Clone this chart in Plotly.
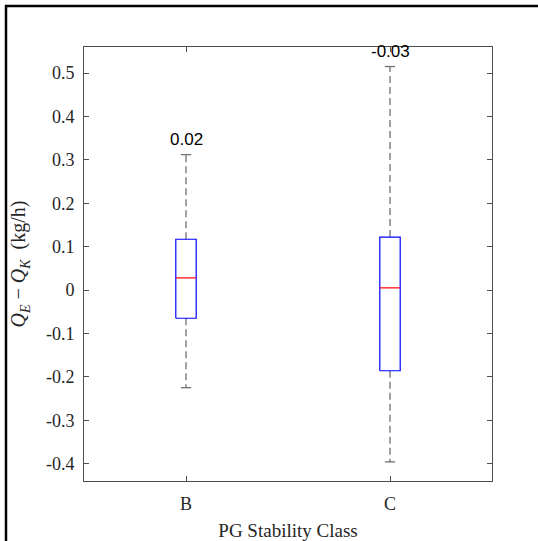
import plotly.graph_objects as go

# ---- data ----
categories = ["B", "C"]
positions = [1, 2]
q1 = [-0.065, -0.186]
median = [0.028, 0.005]
q3 = [0.117, 0.122]
lower_whisker = [-0.225, -0.396]
upper_whisker = [0.312, 0.515]
annot_text = ["0.02", "-0.03"]

y_ticks = [-0.4, -0.3, -0.2, -0.1, 0, 0.1, 0.2, 0.3, 0.4, 0.5]
y_tick_text = ["-0.4", "-0.3", "-0.2", "-0.1", "0", "0.1", "0.2", "0.3", "0.4", "0.5"]

BOX_W = 0.1
CAP_W = 0.05
AXIS_COLOR = "#4d4d4d"
WHISKER_COLOR = "#707070"
TEXT_COLOR = "#262626"
serif = "Liberation Serif, Times New Roman, serif"
sans = "Liberation Sans, Arial, sans-serif"

fig = go.Figure()

for i, x in enumerate(positions):
    hw = BOX_W / 2
    # dashed whiskers
    fig.add_trace(go.Scatter(
        x=[x, x, None, x, x],
        y=[q3[i], upper_whisker[i], None, q1[i], lower_whisker[i]],
        mode="lines", line=dict(color=WHISKER_COLOR, width=1.3, dash="7px,4px"),
        showlegend=False, hoverinfo="skip",
    ))
    # caps
    fig.add_trace(go.Scatter(
        x=[x - CAP_W / 2, x + CAP_W / 2, None, x - CAP_W / 2, x + CAP_W / 2],
        y=[upper_whisker[i], upper_whisker[i], None, lower_whisker[i], lower_whisker[i]],
        mode="lines", line=dict(color=WHISKER_COLOR, width=1.3),
        showlegend=False, hoverinfo="skip",
    ))
    # blue box
    fig.add_trace(go.Scatter(
        x=[x - hw, x + hw, x + hw, x - hw, x - hw],
        y=[q1[i], q1[i], q3[i], q3[i], q1[i]],
        mode="lines", line=dict(color="#0000ff", width=1.2),
        showlegend=False, hoverinfo="skip",
    ))
    # red median
    fig.add_trace(go.Scatter(
        x=[x - hw, x + hw], y=[median[i], median[i]],
        mode="lines", line=dict(color="#ff0000", width=1.2),
        showlegend=False, hoverinfo="skip",
    ))
    fig.add_annotation(
        x=x, y=upper_whisker[i], text=annot_text[i], showarrow=False,
        yanchor="bottom", yshift=4,
        font=dict(family=sans, size=17, color="black"),
    )

fig.update_layout(
    width=538, height=541,
    margin=dict(l=84, r=46, t=47, b=60),
    paper_bgcolor="white", plot_bgcolor="white",
    font=dict(family=serif, size=16, color=TEXT_COLOR),
    xaxis=dict(
        range=[0.5, 2.5], tickmode="array", tickvals=positions, ticktext=categories,
        ticks="inside", ticklen=5, tickcolor=AXIS_COLOR,
        showline=True, linecolor=AXIS_COLOR, linewidth=1, mirror="ticks",
        showgrid=False, zeroline=False, automargin=False,
        tickfont=dict(family=serif, size=18, color=TEXT_COLOR),
        ticklabelstandoff=6,
        title=dict(text="PG Stability Class", font=dict(family=serif, size=19, color=TEXT_COLOR),
                   standoff=13),
    ),
    yaxis=dict(
        range=[-0.44, 0.56], tickmode="array", tickvals=y_ticks, ticktext=y_tick_text,
        ticks="inside", ticklen=5, tickcolor=AXIS_COLOR,
        showline=True, linecolor=AXIS_COLOR, linewidth=1, mirror="ticks",
        showgrid=False, zeroline=False, automargin=False,
        tickfont=dict(family=serif, size=18, color=TEXT_COLOR),
        ticklabelstandoff=5,
        title=dict(text="<i>Q</i><sub><i>E</i></sub> − <i>Q</i><sub><i>K</i></sub>  (kg/h)",
                   font=dict(family=serif, size=20, color=TEXT_COLOR), standoff=14),
    ),
    shapes=[dict(
        type="rect", xref="paper", yref="paper",
        x0=(6 - 84) / 408, x1=(545 - 84) / 408,
        y0=(481 - 548) / 434, y1=(481 - 6) / 434,
        line=dict(color="black", width=2.5), fillcolor="rgba(0,0,0,0)", layer="below",
    )],
)

fig.write_html("out.html")
